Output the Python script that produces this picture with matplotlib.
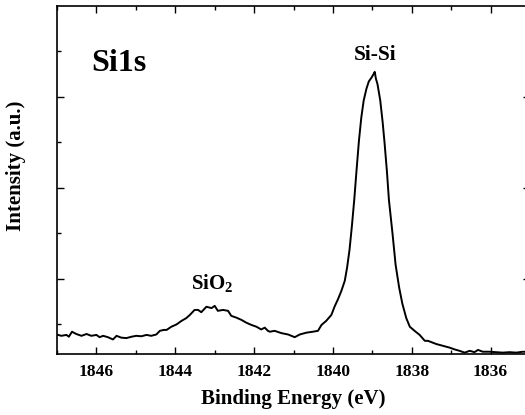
import matplotlib
matplotlib.use('Agg')
import matplotlib.pyplot as plt
from matplotlib.ticker import FixedLocator

plt.rcParams['font.family'] = 'Liberation Serif'
plt.rcParams['font.weight'] = 'bold'
plt.rcParams['mathtext.fontset'] = 'custom'
plt.rcParams['mathtext.rm'] = 'Liberation Serif:bold'
plt.rcParams['mathtext.bf'] = 'Liberation Serif:bold'

# Si 1s spectrum (binding energy in eV, intensity in a.u.)
energy = [1847.01, 1846.89, 1846.76, 1846.70, 1846.62, 1846.51, 1846.38, 1846.25,
          1846.13, 1846.00, 1845.92, 1845.83, 1845.71, 1845.58, 1845.49, 1845.37,
          1845.24, 1845.11, 1844.99, 1844.86, 1844.73, 1844.61, 1844.48, 1844.39,
          1844.29, 1844.22, 1844.10, 1843.97, 1843.84, 1843.72, 1843.63, 1843.51,
          1843.42, 1843.34, 1843.21, 1843.08, 1843.00, 1842.92, 1842.79, 1842.66,
          1842.58, 1842.45, 1842.32, 1842.20, 1842.07, 1841.94, 1841.82, 1841.73,
          1841.65, 1841.60, 1841.48, 1841.31, 1841.14, 1840.97, 1840.84, 1840.67,
          1840.51, 1840.38, 1840.29, 1840.17, 1840.04, 1839.96, 1839.87, 1839.79,
          1839.70, 1839.64, 1839.58, 1839.52, 1839.46, 1839.40, 1839.34, 1839.28,
          1839.22, 1839.15, 1839.09, 1839.04, 1839.01, 1838.97, 1838.94, 1838.91,
          1838.87, 1838.80, 1838.74, 1838.69, 1838.63, 1838.58, 1838.49, 1838.41,
          1838.32, 1838.24, 1838.14, 1838.05, 1837.93, 1837.80, 1837.67, 1837.59,
          1837.50, 1837.38, 1837.21, 1837.04, 1836.91, 1836.79, 1836.66, 1836.53,
          1836.41, 1836.32, 1836.20, 1836.03, 1835.86, 1835.69, 1835.52, 1835.35,
          1835.18, 1835.00]
intensity = [-0.23, -0.26, -0.24, -0.28, -0.17, -0.22, -0.26, -0.22,
             -0.26, -0.24, -0.29, -0.26, -0.29, -0.34, -0.26, -0.30,
             -0.31, -0.28, -0.26, -0.27, -0.24, -0.26, -0.23, -0.15,
             -0.13, -0.13, -0.06, -0.01, 0.07, 0.13, 0.20, 0.31,
             0.31, 0.26, 0.38, 0.35, 0.40, 0.29, 0.31, 0.29,
             0.18, 0.14, 0.09, 0.03, -0.02, -0.06, -0.12, -0.08,
             -0.15, -0.17, -0.15, -0.20, -0.23, -0.29, -0.23, -0.19,
             -0.17, -0.15, -0.02, 0.07, 0.20, 0.38, 0.55, 0.72,
             0.95, 1.25, 1.63, 2.15, 2.73, 3.40, 4.04, 4.55,
             4.92, 5.18, 5.34, 5.40, 5.44, 5.50, 5.55, 5.40,
             5.28, 4.92, 4.45, 3.98, 3.35, 2.73, 2.00, 1.30,
             0.80, 0.45, 0.13, -0.06, -0.15, -0.24, -0.37, -0.37,
             -0.40, -0.44, -0.48, -0.52, -0.56, -0.59, -0.63, -0.59,
             -0.62, -0.57, -0.61, -0.61, -0.62, -0.63, -0.62, -0.63,
             -0.61, -0.62]

x_major = [1846, 1844, 1842, 1840, 1838, 1836]
x_minor = [1847, 1845, 1843, 1841, 1839, 1837, 1835]
y_major = [1, 3, 5]
y_minor = [0, 2, 4, 6]

fig = plt.figure(figsize=(5.25, 4.15), dpi=100)
ax = fig.add_axes([0.1086, 0.147, 0.901, 0.8386])
ax.plot(energy, intensity, color='black', lw=1.4)

ax.set_xlim(1847, 1835)
ax.set_ylim(-0.66, 7.0)
ax.xaxis.set_major_locator(FixedLocator(x_major))
ax.xaxis.set_minor_locator(FixedLocator(x_minor))
ax.yaxis.set_major_locator(FixedLocator(y_major))
ax.yaxis.set_minor_locator(FixedLocator(y_minor))
ax.tick_params(which='both', direction='in', top=True, right=True, width=1)
ax.tick_params(which='major', length=5, labelsize=12.5, pad=7)
ax.tick_params(which='minor', length=3)
ax.set_yticklabels([])
for s in ax.spines.values():
    s.set_linewidth(1.2)

ax.set_xlabel('Binding Energy (eV)', fontsize=15, fontweight='bold', labelpad=7)
ax.set_ylabel('Intensity (a.u.)', fontsize=15, fontweight='bold')
ax.yaxis.set_label_coords(-0.066, 0.54)

ax.text(1846.12, 5.74, 'Si1s', fontsize=23, fontweight='bold', va='center', ha='left')
ax.text(1838.94, 5.93, 'Si-Si', fontsize=15.5, fontweight='bold', va='center', ha='center')
ax.text(1843.07, 0.88, r'SiO$_{\mathbf{2}}$', fontsize=15, fontweight='bold', va='center', ha='center')

fig.savefig('out.png', dpi=100)
